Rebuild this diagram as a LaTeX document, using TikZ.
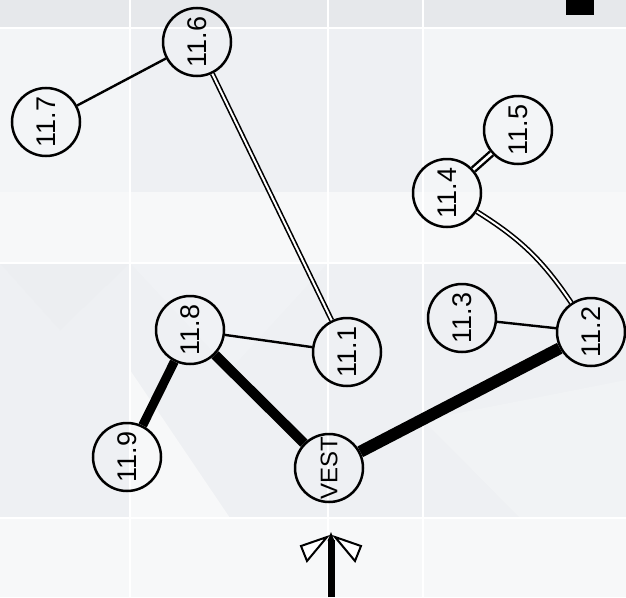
\documentclass[tikz,border=0pt]{standalone}
\usepackage{fontspec}
\setmainfont{Liberation Sans}
\definecolor{bgbase}{RGB}{243,245,247}
\definecolor{bgtop}{RGB}{230,232,235}
\definecolor{bgmid}{RGB}{238,240,243}
\definecolor{bglight}{RGB}{247,248,249}
\begin{document}
\begin{tikzpicture}[x=1pt,y=-1pt,
  nd/.style={circle,draw=black,line width=2.5pt,minimum size=68pt,inner sep=0pt,rotate=90,
             font=\fontsize{27}{27}\selectfont},
  ndv/.style={nd,font=\fontsize{24}{24}\selectfont},
  lnthin/.style={line width=2.4pt},
  dbl/.style={double=white,line width=1.6pt,double distance=2pt},
  dblb/.style={double=white,line width=2.4pt,double distance=2.6pt},
  wing/.style={draw=black,fill=white,line width=2pt,line join=miter},
  grid/.style={draw=white,line width=2pt}]
% background
\useasboundingbox (0,0) rectangle (626,597);
\fill[bgbase] (0,0) rectangle (626,597);
\fill[bgtop] (0,0) rectangle (626,28);
\fill[bgmid] (130,28) rectangle (423,192);
\fill[bglight] (0,192) rectangle (626,263);
\fill[bgmid] (0,263) rectangle (626,518);
\fill[bglight] (0,518) rectangle (626,597);
\fill[bgmid!60!bgbase] (130,263) -- (328,263) -- (230,370) -- cycle;
\fill[bglight] (328,192) -- (423,192) -- (423,263) -- cycle;
\fill[bglight] (130,370) -- (230,518) -- (130,518) -- cycle;
\fill[bgmid!70!bglight] (423,420) -- (626,380) -- (626,518) -- (520,518) -- cycle;
\fill[bgtop!50!bgbase] (0,263) -- (130,263) -- (60,330) -- cycle;
\foreach \gx in {130,328,423} \draw[grid] (\gx,0) -- (\gx,597);
\foreach \gy in {28,263,518} \draw[grid] (0,\gy) -- (626,\gy);
% black square
\fill[black] (566,0) rectangle (594,15);
% nodes
\node[nd] (n116) at (197,42) {11.6};
\node[nd] (n117) at (46,122) {11.7};
\node[nd] (n115) at (518,130) {11.5};
\node[nd] (n114) at (447,193) {11.4};
\node[nd] (n118) at (190,330) {11.8};
\node[nd] (n111) at (347,352) {11.1};
\node[nd] (n113) at (462,318) {11.3};
\node[nd] (n112) at (591,332) {11.2};
\node[nd] (n119) at (127,457) {11.9};
\node[ndv] (vest) at (329,468) {VEST};
% edges
\draw[lnthin] (n117) -- (n116);
\draw[dbl] (n116) -- (n111);
\draw[dblb] (n114) -- (n115);
\draw[dbl] (n114) to[bend left=12] (n112);
\draw[lnthin] (n113) -- (n112);
\draw[lnthin] (n118) -- (n111);
\draw[line width=9pt] (n118) -- (n119);
\draw[line width=10pt] (n118) -- (vest);
\draw[line width=12pt] (vest) -- (n112);
% north arrow
\coordinate (abot) at (331,597);
\coordinate (atip) at (331,532);
\draw[line width=7pt] (abot) -- (331,540);
\fill[black] (327.5,541) -- (atip) -- (334.5,541) -- cycle;
\draw[wing] (327,537) -- (301,546) -- (307,561) -- cycle;
\draw[wing] (335,537) -- (361,546) -- (355,561) -- cycle;
\end{tikzpicture}
\end{document}
